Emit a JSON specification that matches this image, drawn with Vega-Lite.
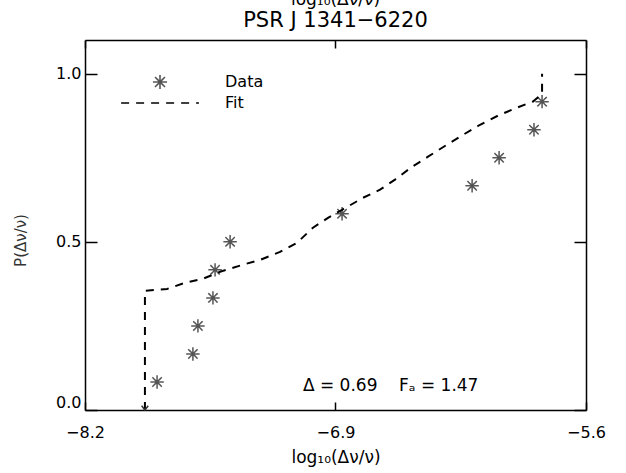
{
  "$schema": "https://vega.github.io/schema/vega-lite/v6.json",
  "width": 501,
  "height": 370,
  "autosize": {"type": "none"},
  "padding": {"left": 85, "top": 40, "right": 40, "bottom": 63},
  "background": "white",
  "title": {
    "text": "log₁₀(Δν/ν)",
    "subtitle": "PSR J 1341−6220",
    "anchor": "middle",
    "frame": "group",
    "font": "DejaVu Sans",
    "fontSize": 17,
    "fontWeight": "normal",
    "color": "black",
    "subtitleFont": "DejaVu Sans",
    "subtitleFontSize": 21,
    "subtitleColor": "black",
    "subtitlePadding": 1,
    "offset": 7
  },
  "datasets": {
    "stars": [
      {"x": -7.826, "y": 0.0833, "series": "Data"},
      {"x": -7.640, "y": 0.1667, "series": "Data"},
      {"x": -7.614, "y": 0.2500, "series": "Data"},
      {"x": -7.536, "y": 0.3333, "series": "Data"},
      {"x": -7.525, "y": 0.4167, "series": "Data"},
      {"x": -7.447, "y": 0.5000, "series": "Data"},
      {"x": -6.866, "y": 0.5833, "series": "Data"},
      {"x": -6.191, "y": 0.6667, "series": "Data"},
      {"x": -6.051, "y": 0.7500, "series": "Data"},
      {"x": -5.870, "y": 0.8333, "series": "Data"},
      {"x": -5.828, "y": 0.9167, "series": "Data"}
    ],
    "fit": [
      {"k": 0, "x": -7.889, "y": 0.000, "series": "Fit"},
      {"k": 1, "x": -7.889, "y": 0.354, "series": "Fit"},
      {"k": 2, "x": -7.774, "y": 0.360, "series": "Fit"},
      {"k": 3, "x": -7.681, "y": 0.378, "series": "Fit"},
      {"k": 4, "x": -7.588, "y": 0.390, "series": "Fit"},
      {"k": 5, "x": -7.499, "y": 0.411, "series": "Fit"},
      {"k": 6, "x": -7.380, "y": 0.432, "series": "Fit"},
      {"k": 7, "x": -7.292, "y": 0.446, "series": "Fit"},
      {"k": 8, "x": -7.188, "y": 0.470, "series": "Fit"},
      {"k": 9, "x": -7.100, "y": 0.497, "series": "Fit"},
      {"k": 10, "x": -7.017, "y": 0.542, "series": "Fit"},
      {"k": 11, "x": -6.939, "y": 0.571, "series": "Fit"},
      {"k": 12, "x": -6.866, "y": 0.595, "series": "Fit"},
      {"k": 13, "x": -6.757, "y": 0.631, "series": "Fit"},
      {"k": 14, "x": -6.669, "y": 0.655, "series": "Fit"},
      {"k": 15, "x": -6.591, "y": 0.685, "series": "Fit"},
      {"k": 16, "x": -6.503, "y": 0.723, "series": "Fit"},
      {"k": 17, "x": -6.420, "y": 0.753, "series": "Fit"},
      {"k": 18, "x": -6.321, "y": 0.789, "series": "Fit"},
      {"k": 19, "x": -6.238, "y": 0.818, "series": "Fit"},
      {"k": 20, "x": -6.150, "y": 0.848, "series": "Fit"},
      {"k": 21, "x": -6.057, "y": 0.875, "series": "Fit"},
      {"k": 22, "x": -5.958, "y": 0.899, "series": "Fit"},
      {"k": 23, "x": -5.875, "y": 0.917, "series": "Fit"},
      {"k": 24, "x": -5.828, "y": 0.940, "series": "Fit"},
      {"k": 25, "x": -5.828, "y": 1.000, "series": "Fit"}
    ],
    "stats": [
      {"label": "Δ = 0.69\u00a0\u00a0\u00a0\u00a0Fₐ = 1.47"}
    ]
  },
  "config": {
    "font": "DejaVu Sans",
    "axis": {
      "domainColor": "black",
      "domainWidth": 1.5,
      "tickColor": "black",
      "tickWidth": 1.5,
      "grid": false,
      "labelFont": "DejaVu Sans",
      "labelFontSize": 16,
      "labelColor": "black",
      "titleFont": "DejaVu Sans",
      "titleFontWeight": "normal",
      "titleColor": "black"
    },
    "legend": {
      "title": null,
      "orient": "none",
      "legendX": 67,
      "legendY": 34,
      "padding": 0,
      "rowPadding": 2,
      "symbolSize": 200,
      "symbolStrokeWidth": 1.6,
      "symbolFillColor": "transparent",
      "labelOffset": 57,
      "labelFont": "DejaVu Sans",
      "labelFontSize": 16,
      "labelColor": "black"
    },
    "view": {"stroke": null}
  },
  "resolve": {"axis": {"x": "independent", "y": "independent"}},
  "layer": [
    {
      "data": {"name": "stars"},
      "mark": {
        "type": "point",
        "filled": false,
        "size": 180,
        "strokeWidth": 1.5,
        "opacity": 1
      },
      "encoding": {
        "x": {
          "field": "x", "type": "quantitative",
          "scale": {"domain": [-8.2, -5.6], "nice": false, "zero": false},
          "axis": {
            "orient": "bottom",
            "values": [-8.2, -6.9, -5.6],
            "format": ".1f",
            "tickSize": -8,
            "labelPadding": 22,
            "labelFlush": false,
            "title": "log₁₀(Δν/ν)",
            "titleFontSize": 17,
            "titlePadding": 9
          }
        },
        "y": {
          "field": "y", "type": "quantitative",
          "scale": {"domain": [0, 1.1], "nice": false, "zero": false},
          "axis": {
            "orient": "left",
            "values": [0, 0.5, 1.0],
            "format": ".1f",
            "tickSize": -12,
            "labelPadding": 16,
            "labelFlush": true,
            "title": "P(Δν/ν)",
            "titleFontSize": 15,
            "titleColor": "#333333",
            "titlePadding": 27,
            "titleY": 200
          }
        },
        "color": {
          "field": "series", "type": "nominal",
          "scale": {"domain": ["Data", "Fit"], "range": ["#555555", "#000000"]}
        },
        "shape": {
          "field": "series", "type": "nominal",
          "scale": {
            "domain": ["Data", "Fit"],
            "range": ["M-1,0L1,0M0,-1L0,1M-0.7,-0.7L0.7,0.7M-0.7,0.7L0.7,-0.7", "M-5.5,0L5.5,0"]
          }
        },
        "strokeDash": {
          "field": "series", "type": "nominal",
          "scale": {"domain": ["Data", "Fit"], "range": [[1, 0], [8, 7]]}
        }
      }
    },
    {
      "data": {"name": "fit"},
      "mark": {"type": "line", "strokeWidth": 2},
      "encoding": {
        "x": {
          "field": "x", "type": "quantitative",
          "axis": {
            "orient": "top",
            "values": [-8.2, -6.9, -5.6],
            "labels": false,
            "tickSize": -8,
            "title": null
          }
        },
        "y": {
          "field": "y", "type": "quantitative",
          "axis": {
            "orient": "right",
            "values": [0, 0.5, 1.0],
            "labels": false,
            "tickSize": -12,
            "title": null
          }
        },
        "order": {"field": "k"},
        "color": {"field": "series", "type": "nominal"},
        "strokeDash": {"field": "series", "type": "nominal"}
      }
    },
    {
      "data": {"name": "fit"},
      "transform": [{"filter": "datum.k === 0"}],
      "mark": {
        "type": "point",
        "shape": "M-0.7,-0.9L0,0L0.7,-0.9",
        "filled": false,
        "size": 90,
        "strokeWidth": 1.5,
        "color": "#333333",
        "opacity": 1
      },
      "encoding": {
        "x": {"field": "x", "type": "quantitative", "axis": null},
        "y": {"field": "y", "type": "quantitative", "axis": null}
      }
    },
    {
      "data": {"name": "stats"},
      "mark": {"type": "text", "align": "left", "baseline": "alphabetic", "fontSize": 17, "font": "DejaVu Sans", "color": "black"},
      "encoding": {
        "x": {"datum": -7.069, "type": "quantitative", "axis": null},
        "y": {"datum": 0.057, "type": "quantitative", "axis": null},
        "text": {"field": "label", "type": "nominal"}
      }
    }
  ]
}
